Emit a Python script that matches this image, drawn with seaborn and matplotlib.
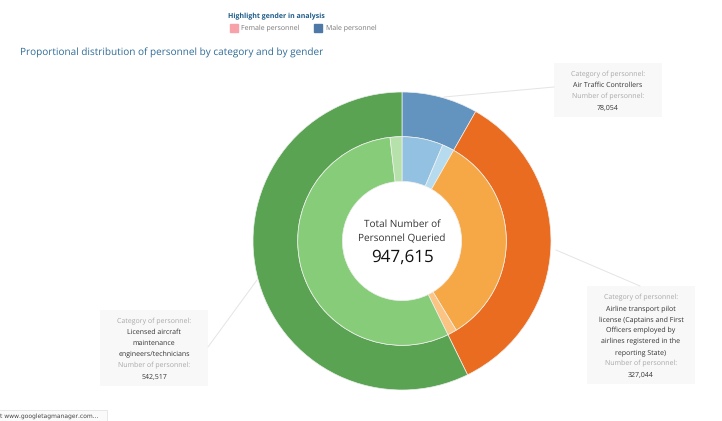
import matplotlib
matplotlib.use("Agg")
import matplotlib.pyplot as plt
from matplotlib.patches import Rectangle
import seaborn as sns

# personnel by category
categories = ["Air Traffic Controllers", "Airline transport pilot", "Licensed aircraft"]
totals = [78054, 327044, 542517]
# inner ring goes male, female inside each category
inner_values = [60500, 17554, 313300, 13744, 525100, 17417]
total_label = "947,615"

outer_colors = ["#6394BF", "#EA6C20", "#5AA353"]
inner_colors = ["#93C1E1", "#B7DBEE", "#F7A846", "#FBC483", "#87CC79", "#B6E1AB"]

sns.set_theme(style="white")
plt.rcParams["font.family"] = ["Open Sans", "DejaVu Sans"]
plt.rcParams["text.hinting"] = "no_hinting"
plt.rcParams["text.hinting_factor"] = 1

W, H = 722, 421
fig = plt.figure(figsize=(W / 100, H / 100), dpi=100, facecolor="white")

# pie axes, radius 1 = outer edge of the donut
cx, cy, r = 402, 241, 149
ax = fig.add_axes([(cx - r) / W, 1 - (cy + r) / H, 2 * r / W, 2 * r / H])
ax.pie(totals, radius=1, colors=outer_colors, startangle=90, counterclock=False,
       wedgeprops=dict(width=0.3, edgecolor="#f0f0f0", linewidth=0.5))
ax.pie(inner_values, radius=0.7, colors=inner_colors, startangle=90, counterclock=False,
       wedgeprops=dict(width=0.3, edgecolor="#f0f0f0", linewidth=0.5))
ax.set_xlim(-1, 1)
ax.set_ylim(-1, 1)
ax.set_aspect("equal")
ax.axis("off")
for w in ax.patches:
    w.set_clip_on(False)

# overlay in pixel coords of the reference
ov = fig.add_axes([0, 0, 1, 1], zorder=5)
ov.set_xlim(0, W)
ov.set_ylim(H, 0)
ov.axis("off")

blue = "#2F6C96"
ov.text(228, 16, "Highlight gender in analysis", fontsize=4.95, fontweight="bold", color="#1F5C8A", va="center")
ov.add_patch(Rectangle((230, 24), 8, 8, color="#F7A1A9"))
ov.text(241, 28, "Female personnel", fontsize=5.4, color="#777777", va="center")
ov.add_patch(Rectangle((314, 24), 8, 8, color="#4E79A7"))
ov.text(326, 28, "Male personnel", fontsize=5.4, color="#777777", va="center")
ov.text(20, 53, "Proportional distribution of personnel by category and by gender",
        fontsize=6.9, color=blue, va="center", fontweight="medium")

# centre text
ov.text(402, 224, "Total Number of", fontsize=6.85, color="#333333", ha="center", va="center")
ov.text(402, 239, "Personnel Queried", fontsize=6.85, color="#333333", ha="center", va="center")
ov.text(402, 257, total_label, fontsize=12.2, color="#111111", ha="center", va="center")

grey = "#a8a8a8"
dark = "#333333"


def callout(x0, y0, x1, y1, lines):
    ov.add_patch(Rectangle((x0, y0), x1 - x0, y1 - y0, color="#f8f8f8", lw=0))
    step = (y1 - y0 - 10) / len(lines)
    for i, (txt, col) in enumerate(lines):
        ov.text((x0 + x1) / 2, y0 + 6 + step * (i + 0.5), txt, fontsize=5.4, color=col,
                ha="center", va="center")


callout(554, 63, 662, 117, [("Category of personnel:", grey), ("Air Traffic Controllers", dark),
                            ("Number of personnel:", grey), ("78,054", dark)])
callout(587, 286, 695, 384, [("Category of personnel:", grey), ("Airline transport pilot", dark),
                             ("license (Captains and First", dark), ("Officers employed by", dark),
                             ("airlines registered in the", dark), ("reporting State)", dark),
                             ("Number of personnel:", grey), ("327,044", dark)])
callout(100, 310, 208, 386, [("Category of personnel:", grey), ("Licensed aircraft", dark),
                             ("maintenance", dark), ("engineers/technicians", dark),
                             ("Number of personnel:", grey), ("542,517", dark)])

# leader lines
ov.plot([444, 554], [97, 87], color="#e4e4e4", lw=0.7)
ov.plot([556, 640], [250, 286], color="#e4e4e4", lw=0.7)
ov.plot([208, 257], [347, 280], color="#e4e4e4", lw=0.7)

# browser status bar at the bottom
ov.add_patch(Rectangle((-2, 410), 109, 14, facecolor="#fafafa", edgecolor="#e4e4e4", lw=0.6))
ov.text(0, 416.5, "t www.googletagmanager.com...", fontsize=4.6, color="#444444",
        family="DejaVu Sans", va="center")

fig.savefig("out.png", dpi=100)
